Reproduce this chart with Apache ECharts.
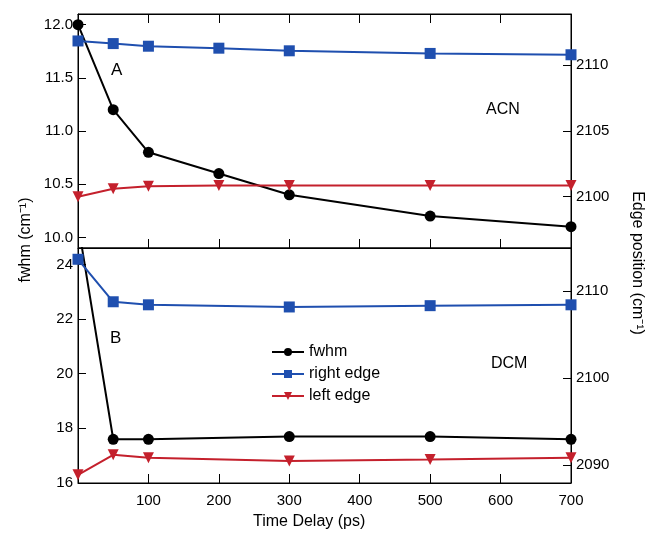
<!DOCTYPE html>
<html>
<head>
<meta charset="utf-8">
<script src="https://cdn.jsdelivr.net/npm/echarts@6/dist/echarts.min.js"></script>
<style>
html, body { margin: 0; padding: 0; background: #fff; }
#chart { width: 649px; height: 537px; }
</style>
</head>
<body>
<div id="chart"></div>
<script>
// panel A (ACN)
var timeA = [0, 50, 100, 200, 300, 500, 700];
var fwhmA = [12.0, 11.2, 10.8, 10.6, 10.4, 10.2, 10.1];
var rightA = [2111.85, 2111.65, 2111.45, 2111.3, 2111.1, 2110.9, 2110.8];
var leftA = [2100.0, 2100.6, 2100.8, 2100.85, 2100.85, 2100.85, 2100.85];

// panel B (DCM) - first fwhm point lies above the panel and gets clipped
var timeB = [0, 50, 100, 300, 500, 700];
var fwhmB = [25.5, 17.6, 17.6, 17.7, 17.7, 17.6];
var rightB = [2113.7, 2108.8, 2108.45, 2108.2, 2108.35, 2108.45];
var leftB = [2088.85, 2091.15, 2090.8, 2090.45, 2090.6, 2090.8];

// tick labels
var xTicks = [100, 200, 300, 400, 500, 600, 700];
var fwhmTicksA = [10.0, 10.5, 11.0, 11.5, 12.0];
var edgeTicksA = [2100, 2105, 2110];
var fwhmTicksB = [16, 18, 20, 22, 24];
var edgeTicksB = [2090, 2100, 2110];

var black = '#000000', blue = '#1f4faf', red = '#c4202c';
var font = '"Liberation Sans", Arial, sans-serif';

function pairs(xs, ys) {
    var out = [];
    for (var i = 0; i < xs.length; i++) {
        out.push([xs[i], ys[i]]);
    }
    return out;
}

function xAxisOpt(grid, pos, labels) {
    return {
        type: 'value', gridIndex: grid, position: pos, min: 0, max: 700,
        axisLine: { show: true, onZero: false, lineStyle: { color: black, width: 1 } },
        axisTick: { show: true, inside: true, length: 9, lineStyle: { color: black },
            customValues: xTicks },
        axisLabel: { show: labels, customValues: xTicks, color: black, fontSize: 15,
            fontFamily: font, margin: 10 },
        splitLine: { show: false }
    };
}

function yAxisOpt(grid, pos, min, max, ticks, digits) {
    return {
        type: 'value', gridIndex: grid, position: pos, min: min, max: max,
        axisLine: { show: true, onZero: false, lineStyle: { color: black, width: 1 } },
        axisTick: { show: true, inside: true, length: 8, lineStyle: { color: black },
            customValues: ticks },
        axisLabel: { show: true, customValues: ticks, color: black, fontSize: 15,
            fontFamily: font, margin: 5,
            formatter: function(v) { return v.toFixed(digits); } },
        splitLine: { show: false }
    };
}

function lineSeries(name, xi, yi, data, color, symbol, clip) {
    return {
        name: name, type: 'line', xAxisIndex: xi, yAxisIndex: yi,
        data: data, symbol: symbol, symbolSize: symbol === 'triangle' ? 11 : 11,
        symbolRotate: symbol === 'triangle' ? 180 : 0,
        clip: clip,
        lineStyle: { color: color, width: 2 },
        itemStyle: { color: color },
        emphasis: { disabled: true }
    };
}

var chart = echarts.init(document.getElementById('chart'), null, { renderer: 'canvas' });

var option = {
    animation: false,
    backgroundColor: '#fff',
    grid: [
        { left: 78, right: 78, top: 14, height: 234, show: true, borderColor: black, borderWidth: 1 },
        { left: 78, right: 78, top: 248, height: 235, show: true, borderColor: black, borderWidth: 1 }
    ],
    xAxis: [
        xAxisOpt(0, 'bottom', false),
        xAxisOpt(0, 'top', false),
        xAxisOpt(1, 'bottom', true)
    ],
    yAxis: [
        yAxisOpt(0, 'left', 9.9, 12.1, fwhmTicksA, 1),
        yAxisOpt(0, 'right', 2096.1, 2113.9, edgeTicksA, 0),
        yAxisOpt(1, 'left', 16, 24.6, fwhmTicksB, 0),
        yAxisOpt(1, 'right', 2087.9, 2115.0, edgeTicksB, 0)
    ],
    legend: {
        orient: 'vertical', left: 266, top: 339,
        itemWidth: 32, itemHeight: 10, itemGap: 6,
        textStyle: { color: black, fontSize: 16, fontFamily: font },
        data: ['fwhm', 'right edge', 'left edge']
    },
    series: [
        lineSeries('fwhm', 0, 0, pairs(timeA, fwhmA), black, 'circle', false),
        lineSeries('right edge', 0, 1, pairs(timeA, rightA), blue, 'rect', false),
        lineSeries('left edge', 0, 1, pairs(timeA, leftA), red, 'triangle', false),
        lineSeries('fwhm', 2, 2, pairs(timeB, fwhmB), black, 'circle', true),
        lineSeries('right edge', 2, 3, pairs(timeB, rightB), blue, 'rect', false),
        lineSeries('left edge', 2, 3, pairs(timeB, leftB), red, 'triangle', false)
    ],
    graphic: [
        { type: 'text', left: 111, top: 62, style: { text: 'A', font: '17px ' + font, fill: black } },
        { type: 'text', left: 110, top: 330, style: { text: 'B', font: '17px ' + font, fill: black } },
        { type: 'text', left: 486, top: 102, style: { text: 'ACN', font: '16px ' + font, fill: black } },
        { type: 'text', left: 491, top: 356, style: { text: 'DCM', font: '16px ' + font, fill: black } },
        { type: 'text', left: 253, top: 514, style: { text: 'Time Delay (ps)', font: '16px ' + font, fill: black } },
        { type: 'text', x: 26, y: 240, rotation: Math.PI / 2,
          style: { text: 'fwhm (cm\u207B\u00B9)', font: '16px ' + font, fill: black, align: 'center', verticalAlign: 'middle' } },
        { type: 'text', x: 637, y: 263, rotation: -Math.PI / 2,
          style: { text: 'Edge position (cm\u207B\u00B9)', font: '16px ' + font, fill: black, align: 'center', verticalAlign: 'middle' } }
    ]
};

chart.setOption(option);
</script>
</body>
</html>
